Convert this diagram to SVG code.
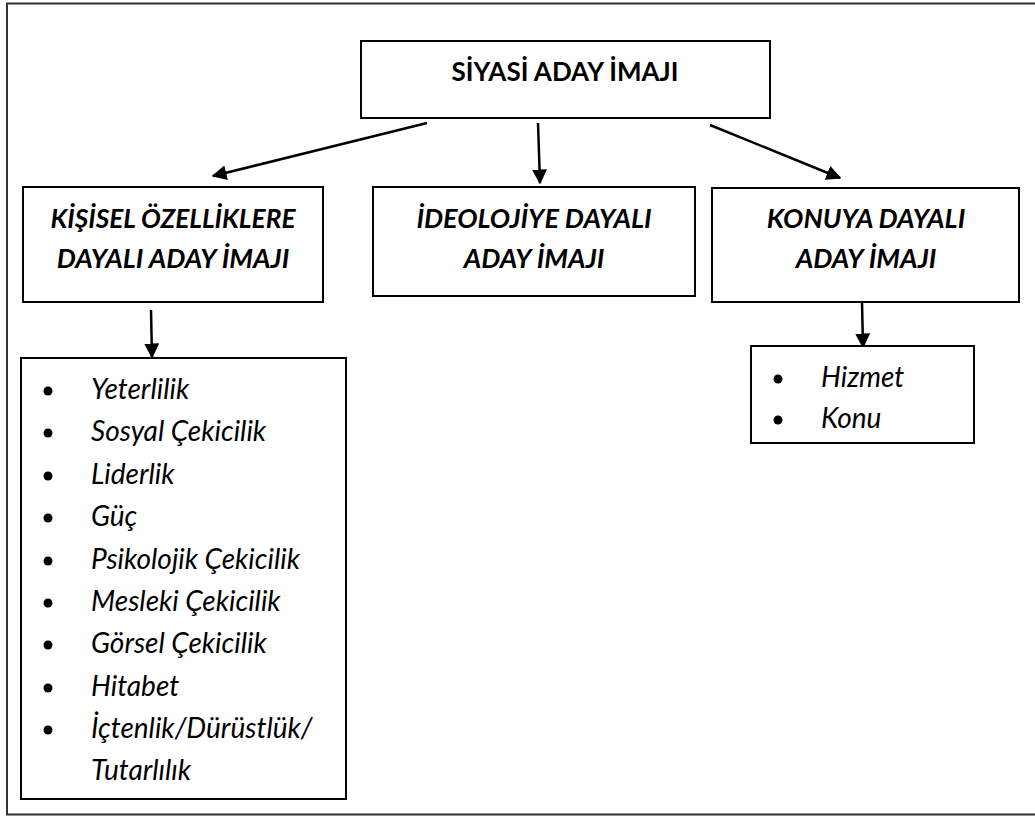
<svg xmlns="http://www.w3.org/2000/svg" width="1035" height="816" viewBox="0 0 1035 816">
<defs>
<style>
.box{fill:#fff;stroke:#000;stroke-width:2}
.t{font-family:Lato,"Open Sans",sans-serif;fill:#000}
.h{font-size:26px;font-weight:bold}
.hi{font-size:27px;font-weight:bold;font-style:italic}
.li{font-size:28px;font-style:italic}
.conn line{stroke:#000;stroke-width:2.5}
</style>
<marker id="ah" viewBox="0 0 10 10" refX="9" refY="5" markerWidth="6" markerHeight="6" orient="auto" markerUnits="strokeWidth">
<path d="M0,0 L10,5 L0,10 z" fill="#000"/>
</marker>
</defs>
<rect x="0" y="0" width="1035" height="816" fill="#fff"/>
<rect x="7" y="3.5" width="1040" height="811" fill="none" stroke="#333" stroke-width="2"/>

<g id="connectors" class="conn">
<line x1="427" y1="123" x2="213" y2="176" marker-end="url(#ah)"/>
<line x1="538" y1="123" x2="540" y2="183" marker-end="url(#ah)"/>
<line x1="710" y1="125" x2="840" y2="178" marker-end="url(#ah)"/>
<line x1="151" y1="310" x2="152" y2="357" marker-end="url(#ah)"/>
<line x1="862" y1="302" x2="863" y2="347" marker-end="url(#ah)"/>
</g>

<g id="root">
<rect class="box" x="361" y="41" width="409" height="77"/>
<text class="t h" x="565" y="81" text-anchor="middle">SİYASİ ADAY İMAJI</text>
</g>

<g id="kisisel">
<rect class="box" x="23" y="187" width="300" height="115"/>
<text class="t hi" x="173" y="228" text-anchor="middle" textLength="245" lengthAdjust="spacingAndGlyphs">KİŞİSEL ÖZELLİKLERE</text>
<text class="t hi" x="173" y="268" text-anchor="middle">DAYALI ADAY İMAJI</text>
</g>

<g id="ideoloji">
<rect class="box" x="373" y="187" width="322" height="109"/>
<text class="t hi" x="534" y="228" text-anchor="middle">İDEOLOJİYE DAYALI</text>
<text class="t hi" x="534" y="268" text-anchor="middle">ADAY İMAJI</text>
</g>

<g id="konu">
<rect class="box" x="712" y="188" width="307" height="114"/>
<text class="t hi" x="866" y="228" text-anchor="middle">KONUYA DAYALI</text>
<text class="t hi" x="866" y="268" text-anchor="middle">ADAY İMAJI</text>
</g>

<g id="kisisel-list">
<rect class="box" x="21" y="358" width="325" height="441"/>
<g fill="#000">
<circle cx="48" cy="391" r="4.5"/>
<circle cx="48" cy="433" r="4.5"/>
<circle cx="48" cy="476" r="4.5"/>
<circle cx="48" cy="518" r="4.5"/>
<circle cx="48" cy="561" r="4.5"/>
<circle cx="48" cy="603" r="4.5"/>
<circle cx="48" cy="645" r="4.5"/>
<circle cx="48" cy="688" r="4.5"/>
<circle cx="48" cy="730" r="4.5"/>
</g>
<text class="t li" x="91" y="399">Yeterlilik</text>
<text class="t li" x="91" y="441">Sosyal Çekicilik</text>
<text class="t li" x="91" y="484">Liderlik</text>
<text class="t li" x="91" y="526">Güç</text>
<text class="t li" x="91" y="569">Psikolojik Çekicilik</text>
<text class="t li" x="91" y="611">Mesleki Çekicilik</text>
<text class="t li" x="91" y="653">Görsel Çekicilik</text>
<text class="t li" x="91" y="696">Hitabet</text>
<text class="t li" x="91" y="738">İçtenlik/Dürüstlük/</text>
<text class="t li" x="91" y="780">Tutarlılık</text>
</g>

<g id="konu-list">
<rect class="box" x="751" y="346" width="223" height="97"/>
<circle cx="778" cy="379" r="4.5" fill="#000"/>
<circle cx="778" cy="420" r="4.5" fill="#000"/>
<text class="t li" x="821" y="387">Hizmet</text>
<text class="t li" x="821" y="428">Konu</text>
</g>
</svg>
